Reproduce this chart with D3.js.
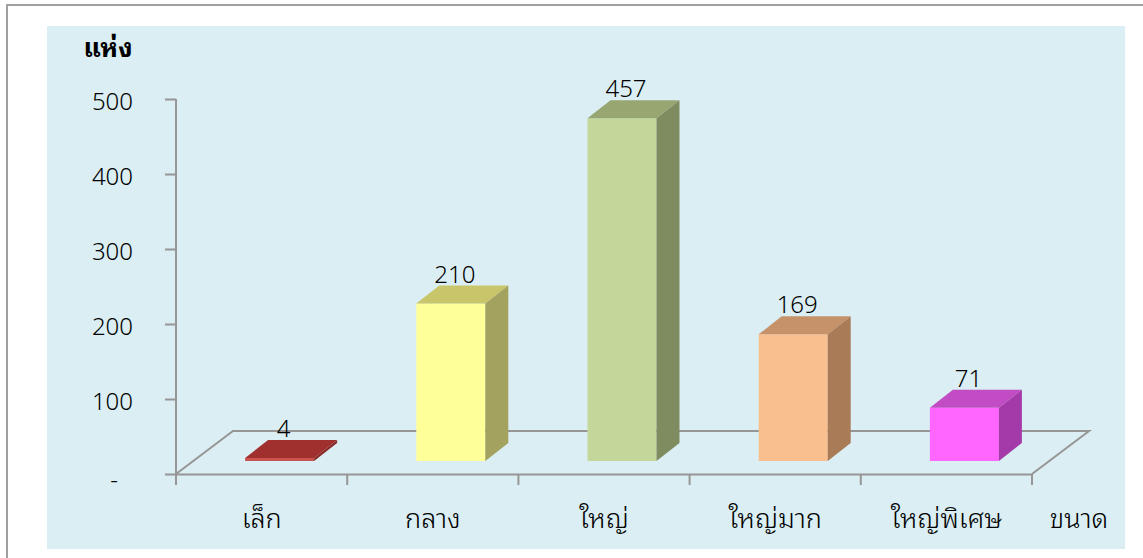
<!DOCTYPE html>
<html lang="th">
<head>
<meta charset="UTF-8" />
<title>จำนวนแห่ง ตามขนาด</title>
<style>
  html, body { margin: 0; padding: 0; background: #fff; }
  svg { display: block; }
  text { font-family: "Tahoma", "Noto Sans Thai Looped", "Noto Sans Thai", "Loma", "Garuda", "Noto Sans", "DejaVu Sans", sans-serif; fill: #000; }
  .num, .cat { font-weight: 300; }
</style>
</head>
<body>
<script src="https://d3js.org/d3.v7.min.js"></script>
<script>
// data
const categories = ["เล็ก", "กลาง", "ใหญ่", "ใหญ่มาก", "ใหญ่พิเศษ"];
const values = [4, 210, 457, 169, 71];
const yTicks = [0, 100, 200, 300, 400, 500];
const frontColors = ["#c9514e", "#ffff99", "#c4d79b", "#fabf8f", "#ff66ff"];
const topColors = ["#a0302e", "#c9c56a", "#98a672", "#c6926a", "#c24cc4"];
const sideColors = ["#8a2a28", "#a3a25e", "#7f8c60", "#a97c57", "#a43aaa"];
const yTitle = "แห่ง";
const xTitle = "ขนาด";

const width = 1143, height = 558;
const x0 = 176, x1 = 1032, yBase = 474, yTop = 99;
const floor = {dx: 57, dy: -43};   // depth of the floor
const shift = {dx: 18, dy: -13};   // where the bars stand inside the floor
const side = {dx: 23, dy: -18};    // bar depth
const barW = 69;

const svg = d3.select("body").append("svg")
  .attr("width", width)
  .attr("height", height);

// frame + plot area
svg.append("rect")
  .attr("x", 7).attr("y", 5).attr("width", width).attr("height", height)
  .attr("fill", "#fff").attr("stroke", "#a0a0a0").attr("stroke-width", 2);
svg.append("rect")
  .attr("x", 47).attr("y", 26).attr("width", 1078).attr("height", 523)
  .attr("fill", "#daeef3");

const x = d3.scaleBand().domain(categories).range([x0, x1]);
const y = d3.scaleLinear().domain([0, 500]).range([yBase, yTop]);

// floor
const gridColor = "#969696";
svg.append("path")
  .attr("d", `M${x0},${yBase}L${x0 + floor.dx},${yBase + floor.dy}L${x1 + floor.dx},${yBase + floor.dy}L${x1},${yBase}`)
  .attr("fill", "none").attr("stroke", gridColor).attr("stroke-width", 2);

// y axis
const yAxis = svg.append("g")
  .attr("transform", `translate(${x0},0)`)
  .call(d3.axisLeft(y).tickValues(yTicks).tickSize(11).tickPadding(32)
    .tickFormat(d => d === 0 ? "-" : d));
yAxis.select(".domain").attr("stroke", gridColor).attr("stroke-width", 2);
yAxis.selectAll(".tick line").attr("stroke", gridColor).attr("stroke-width", 2);
yAxis.selectAll(".tick text")
  .attr("class", "num")
  .attr("font-size", 24)
  .attr("dy", "0.45em")
  .filter(d => d === 0).attr("dx", -15).attr("dy", "0.55em");
yAxis.select(".domain").attr("d", `M0,${yTop}V${yBase}`);

// x axis
const xAxis = svg.append("g")
  .attr("transform", `translate(0,${yBase})`)
  .call(d3.axisBottom(x).tickSize(0).tickPadding(49));
xAxis.select(".domain").attr("stroke", gridColor).attr("stroke-width", 2);
xAxis.selectAll(".tick text").attr("class", "cat").attr("font-size", 27).attr("dy", "0.2em");
xAxis.selectAll(".bound")
  .data(categories.map(c => x(c)).concat([x1]))
  .join("line")
  .attr("class", "bound")
  .attr("x1", d => d).attr("x2", d => d)
  .attr("y1", 0).attr("y2", 11)
  .attr("stroke", gridColor).attr("stroke-width", 2);

svg.append("text")
  .attr("class", "cat")
  .attr("x", 1079).attr("y", yBase + 49).attr("dy", "0.2em")
  .attr("text-anchor", "middle").attr("font-size", 27)
  .text(xTitle);

svg.append("text")
  .attr("x", 108).attr("y", 57)
  .attr("text-anchor", "middle").attr("font-size", 26).attr("font-weight", "bold")
  .text(yTitle);

// bars
const bars = svg.append("g").selectAll("g")
  .data(categories.map((c, i) => ({c, v: values[i], i})))
  .join("g");

const barLeft = d => x(d.c) + x.bandwidth() / 2 + shift.dx - barW / 2;
const barBottom = d => y(0) + shift.dy;
const barTop = d => y(d.v) + shift.dy;

bars.append("rect")
  .attr("x", barLeft).attr("y", barTop)
  .attr("width", barW).attr("height", d => barBottom(d) - barTop(d))
  .attr("fill", d => frontColors[d.i]);

bars.append("path")
  .attr("d", d => {
    const l = barLeft(d), r = l + barW, t = barTop(d);
    return `M${l},${t}L${l + side.dx},${t + side.dy}L${r + side.dx},${t + side.dy}L${r},${t}Z`;
  })
  .attr("fill", d => topColors[d.i]);

bars.append("path")
  .attr("d", d => {
    const r = barLeft(d) + barW, t = barTop(d), b = barBottom(d);
    return `M${r},${t}L${r + side.dx},${t + side.dy}L${r + side.dx},${b + side.dy}L${r},${b}Z`;
  })
  .attr("fill", d => sideColors[d.i]);

bars.append("text")
  .attr("class", "num")
  .attr("x", d => barLeft(d) + barW / 2 + 4)
  .attr("y", d => barTop(d) + side.dy - 3)
  .attr("text-anchor", "middle").attr("font-size", 24)
  .text(d => d.v);
</script>
</body>
</html>
